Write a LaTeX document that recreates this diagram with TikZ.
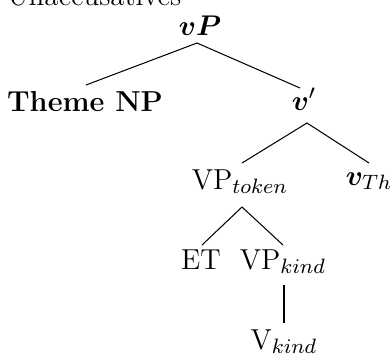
\documentclass[tikz,border=0pt]{standalone}
\usepackage{amsmath}
\usepackage{bm}
\usetikzlibrary{calc}
\begin{document}
\begin{tikzpicture}[x=0.3846pt,y=-0.3846pt,
  font=\fontsize{11.1}{13.3}\selectfont,
  lab/.style={inner sep=0pt,anchor=base},
  edge/.style={line width=0.4pt}]
\useasboundingbox (0,0) rectangle (390,356);
\node[lab,anchor=base west] (title) at (7,5) {Unaccusatives};
\node[lab] (vP) at (200,35) {$\bm{vP}$};
\node[lab] (NP) at (85,111) {\textbf{Theme NP}};
\node[lab] (vbar) at (304,110) {$\bm{v}'$};
\node[lab] (VPt) at (240,189) {VP$_{token}$};
\node[lab] (vTh) at (369,185) {$\bm{v}_{Th}$};
\node[lab] (ET) at (201,269) {ET};
\node[lab] (VPk) at (283,269) {VP$_{kind}$};
\node[lab] (Vk) at (284,349) {V$_{kind}$};
\draw[edge] ($(NP.base)+(1,-26)$) -- ($(vP.base)+(-3,8)$) -- ($(vbar.base)+(-4,-22)$);
\draw[edge] ($(VPt.base)+(2,-26)$) -- ($(vbar.base)+(3,13)$) -- ($(vTh.base)+(0,-22)$);
\draw[edge] ($(ET.base)+(1,-24)$) -- ($(VPt.base)+(2,18)$) -- ($(VPk.base)+(0,-24)$);
\draw[edge] ($(VPk.base)+(1,16)$) -- ($(Vk.base)+(0,-26)$);
\end{tikzpicture}
\end{document}
